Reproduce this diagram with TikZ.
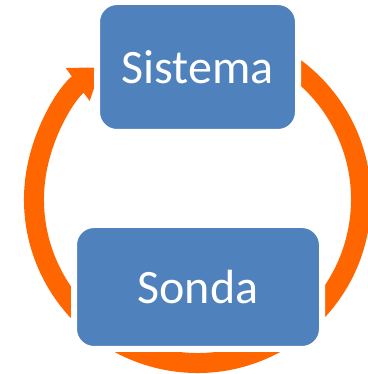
\documentclass[tikz,border=0pt]{standalone}
\usepackage{fontspec}
\setmainfont{Carlito}
\usetikzlibrary{arrows.meta}
\definecolor{cycleorange}{HTML}{FF6600}
\definecolor{boxblue}{HTML}{4F81BD}
\tikzset{
  stagebox/.style={fill=boxblue, draw=white, line width=4.5pt, rounded corners=15pt,
    text=white, font=\fontsize{36}{43}\selectfont},
  cyclearc/.style={draw=cycleorange, line width=15pt, -{Triangle[width=29pt, length=22pt]}}
}
\begin{document}
\begin{tikzpicture}[x=0.75pt, y=0.75pt, line join=round]
  \useasboundingbox (0,0) rectangle (367,374);
  \coordinate (O) at (197.5,174.5);
  % ring, clockwise from behind Sistema round to its left side
  \draw[cyclearc] (O) ++(80:163.5) arc[start angle=80, end angle=-234, radius=163.5];
  \node[stagebox, minimum width=150.75pt, minimum height=97.5pt] (sistema) at (197.5,307) {Sistema};
  \node[stagebox, minimum width=186pt, minimum height=93pt] (sonda) at (198,87) {Sonda};
\end{tikzpicture}
\end{document}
